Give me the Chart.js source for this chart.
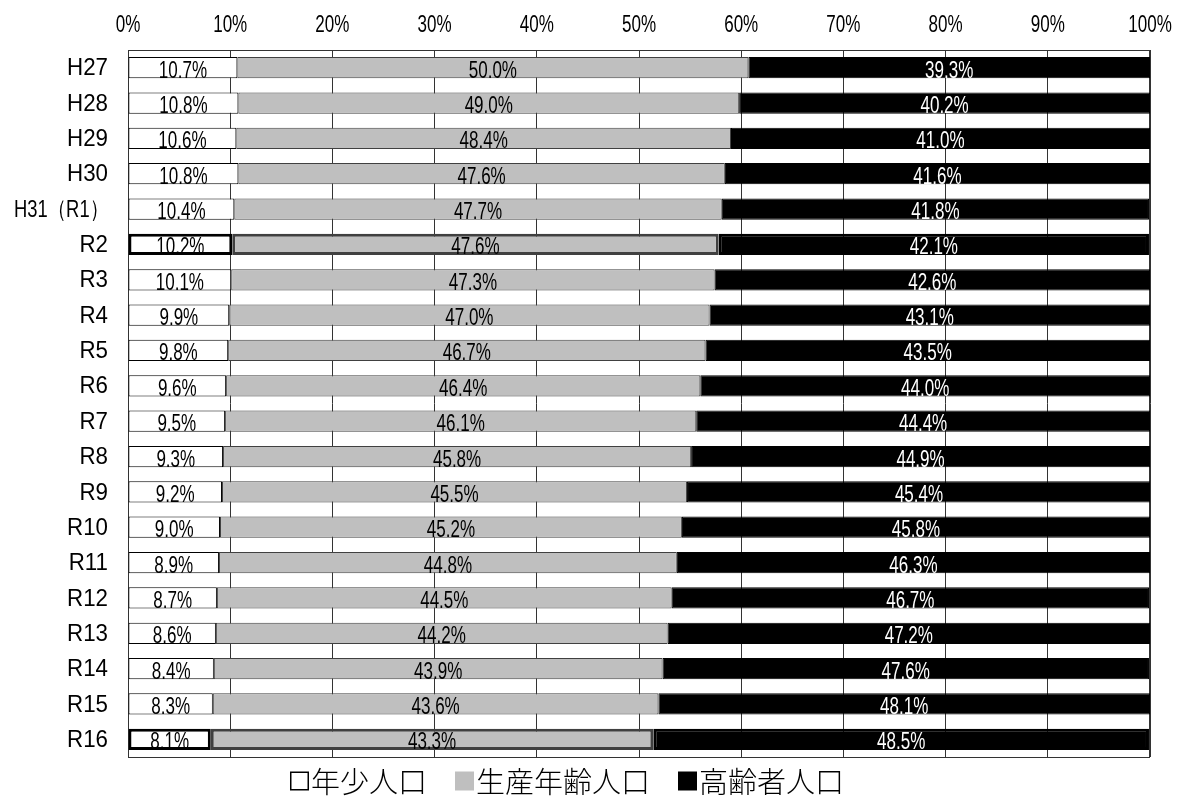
<!DOCTYPE html>
<html lang="ja">
<head>
<meta charset="UTF-8">
<title>年齢3区分別人口割合</title>
<script src="https://cdn.jsdelivr.net/npm/chart.js"></script>
<style>
  html, body { margin: 0; padding: 0; background: #fff; }
</style>
</head>
<body>
<canvas id="chart" width="1179" height="798"></canvas>
<script>
// データ
const years = ['H27', 'H28', 'H29', 'H30', 'H31（R1）', 'R2', 'R3', 'R4', 'R5', 'R6',
               'R7', 'R8', 'R9', 'R10', 'R11', 'R12', 'R13', 'R14', 'R15', 'R16'];
const young = [10.7, 10.8, 10.6, 10.8, 10.4, 10.2, 10.1, 9.9, 9.8, 9.6,
               9.5, 9.3, 9.2, 9.0, 8.9, 8.7, 8.6, 8.4, 8.3, 8.1];
const working = [50.0, 49.0, 48.4, 47.6, 47.7, 47.6, 47.3, 47.0, 46.7, 46.4,
                 46.1, 45.8, 45.5, 45.2, 44.8, 44.5, 44.2, 43.9, 43.6, 43.3];
const elderly = [39.3, 40.2, 41.0, 41.6, 41.8, 42.1, 42.6, 43.1, 43.5, 44.0,
                 44.4, 44.9, 45.4, 45.8, 46.3, 46.7, 47.2, 47.6, 48.1, 48.5];
const xTicks = [0, 10, 20, 30, 40, 50, 60, 70, 80, 90, 100];

// 強調する行 (R2, R16)
const boldRows = ['R2', 'R16'];
const bw = (ctx) => boldRows.includes(years[ctx.dataIndex]) ? 3 : 1;

const NARROW = 0.74;  // 細めの数字フォントの代わりに横方向を縮める
function narrowText(ctx, text, x, y, k = NARROW) {
  ctx.save();
  ctx.translate(x, y);
  ctx.scale(k, 1);
  ctx.fillText(text, 0, 0);
  ctx.restore();
}

// 棒の中の値
const valueLabels = {
  id: 'valueLabels',
  afterDatasetsDraw(chart) {
    const ctx = chart.ctx;
    ctx.save();
    ctx.font = '23px "Liberation Sans", sans-serif';
    ctx.textAlign = 'center';
    ctx.textBaseline = 'alphabetic';
    chart.data.datasets.forEach((ds, di) => {
      chart.getDatasetMeta(di).data.forEach((bar, i) => {
        ctx.fillStyle = di === 2 ? '#fff' : '#000';
        narrowText(ctx, ds.data[i].toFixed(1) + '%', (bar.x + bar.base) / 2, bar.y + 10);
      });
    });
    ctx.restore();
  }
};

// 軸ラベル (上の目盛と左の年度)
const axisLabels = {
  id: 'axisLabels',
  afterDraw(chart) {
    const ctx = chart.ctx, sx = chart.scales.x, sy = chart.scales.y;
    ctx.save();
    ctx.font = '23px "Liberation Sans", sans-serif';
    ctx.fillStyle = '#000';
    ctx.textAlign = 'center';
    xTicks.forEach(v => narrowText(ctx, v + '%', sx.getPixelForValue(v), 32));

    ctx.font = '24px "Liberation Sans", sans-serif';
    ctx.textAlign = 'right';
    ctx.textBaseline = 'middle';
    years.forEach((lab, i) => {
      const w = ctx.measureText(lab).width;
      const k = Math.min(0.93, 94 / w);
      narrowText(ctx, lab, sy.left + sy.width - 20, sy.getPixelForValue(i) + 1, k);
    });
    ctx.restore();
  }
};

// 外枠
const frame = {
  id: 'frame',
  beforeDatasetsDraw(chart) {
    const a = chart.chartArea, ctx = chart.ctx;
    ctx.save();
    ctx.strokeStyle = '#333';
    ctx.lineWidth = 1;
    ctx.strokeRect(a.left + 0.5, a.top + 0.5, a.right - a.left - 1, a.bottom - a.top);
    ctx.restore();
  }
};

// 凡例 (下)
const bottomLegend = {
  id: 'bottomLegend',
  afterDraw(chart) {
    const ctx = chart.ctx;
    const box = 19, gap = 28;
    ctx.save();
    ctx.font = '300 29px "Noto Sans CJK JP", sans-serif';
    ctx.textBaseline = 'middle';
    const items = chart.data.datasets.map(ds => ({ ds, w: ctx.measureText(ds.label).width }));
    const total = items.reduce((s, it) => s + box + 2 + it.w, 0) + gap * (items.length - 1);
    let x = (chart.width - 45) / 2 - total / 2;
    const y = chart.chartArea.bottom + 24;
    items.forEach(({ ds, w }) => {
      ctx.fillStyle = ds.backgroundColor;
      ctx.fillRect(x, y - box / 2, box, box);
      if (ds.backgroundColor === '#ffffff') {
        ctx.strokeStyle = '#000';
        ctx.lineWidth = 1.5;
        ctx.strokeRect(x + 0.75, y - box / 2 + 0.75, box - 1.5, box - 1.5);
      }
      ctx.fillStyle = '#000';
      ctx.fillText(ds.label, x + box + 2, y + 1);
      x += box + 2 + w + gap;
    });
    ctx.restore();
  }
};

new Chart(document.getElementById('chart'), {
  type: 'bar',
  data: {
    labels: years,
    datasets: [
      { label: '年少人口', data: young, backgroundColor: '#ffffff', borderColor: '#000', borderWidth: bw },
      { label: '生産年齢人口', data: working, backgroundColor: '#bfbfbf', borderColor: '#404040', borderWidth: bw },
      { label: '高齢者人口', data: elderly, backgroundColor: '#000000', borderColor: '#000', borderWidth: bw }
    ]
  },
  options: {
    indexAxis: 'y',
    responsive: false,
    animation: false,
    layout: { padding: { left: 0, right: 29, top: 0, bottom: 41 } },
    datasets: { bar: { barPercentage: 0.6, categoryPercentage: 1.0, borderSkipped: false } },
    scales: {
      x: {
        position: 'top',
        stacked: true,
        min: 0, max: 100,
        afterBuildTicks: (s) => { s.ticks = xTicks.map(v => ({ value: v })); },
        afterFit: (s) => { s.height = 50; },
        ticks: { display: false },
        grid: { color: '#333', lineWidth: 1, drawTicks: false },
        border: { display: false }
      },
      y: {
        stacked: true,
        afterFit: (s) => { s.width = 128; },
        ticks: { display: false },
        grid: { display: false, drawTicks: false },
        border: { display: false }
      }
    },
    plugins: {
      legend: { display: false },
      tooltip: { enabled: false }
    }
  },
  plugins: [frame, valueLabels, axisLabels, bottomLegend]
});
</script>
</body>
</html>
